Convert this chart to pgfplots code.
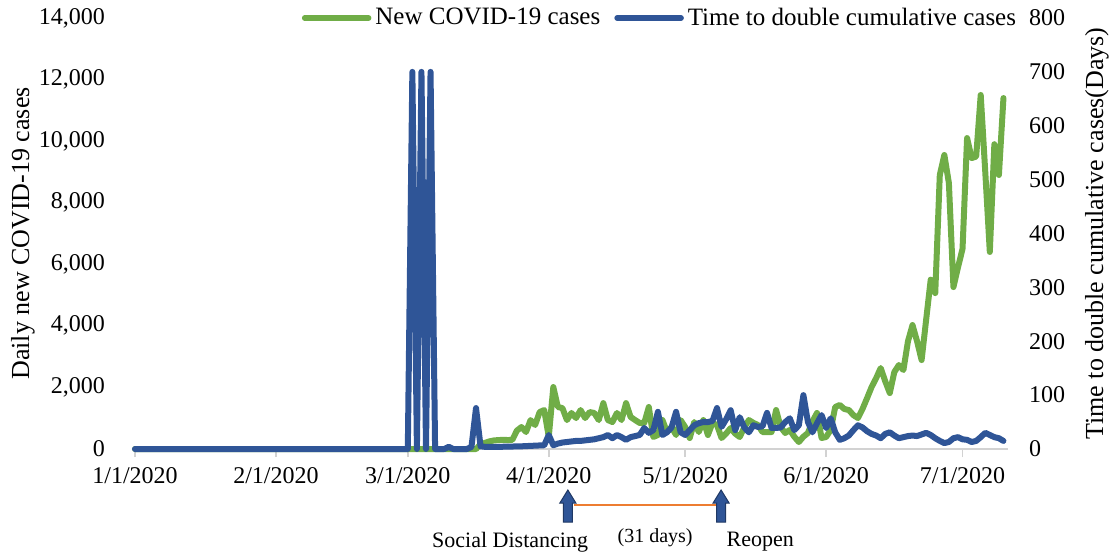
\documentclass[border=0pt]{standalone}
\usepackage{fontspec}
\setmainfont{Liberation Serif}
\usepackage{pgfplots}
\pgfplotsset{compat=1.18}
\usepackage{pgfplotstable}

\definecolor{casegreen}{RGB}{112,173,71}
\definecolor{doubleblue}{RGB}{47,85,151}
\definecolor{arrowedge}{RGB}{31,56,100}
\definecolor{spanorange}{RGB}{237,125,49}
\definecolor{axisgray}{RGB}{210,210,210}

% day = days since 1/1/2020
\pgfplotstableread{
day cases
0 0
75 0
76 150
77 200
78 250
79 280
80 290
81 300
82 290
83 300
84 600
85 714
86 552
87 940
88 780
89 1200
90 1266
91 400
92 2013
93 1364
94 1330
95 940
96 1170
97 1006
98 1266
99 1006
100 1200
101 1170
102 940
103 1490
104 940
105 877
106 1170
107 940
108 1490
109 1040
110 940
111 845
112 845
113 1364
114 390
115 455
116 940
117 552
118 714
119 455
120 940
121 714
122 357
123 877
124 552
125 940
126 455
127 845
128 780
129 357
130 500
131 680
132 500
133 390
134 700
135 940
136 850
137 780
138 552
139 552
140 552
141 1266
142 714
143 520
144 617
145 400
146 227
147 400
148 520
149 900
150 1170
151 357
152 390
153 620
154 1364
155 1430
156 1300
157 1266
158 1100
159 1006
160 1300
161 1650
162 2013
163 2300
164 2630
165 2200
166 1818
167 2500
168 2727
169 2565
170 3500
171 4026
172 3500
173 2890
174 4200
175 5500
176 5065
177 8900
178 9550
179 8640
180 5260
181 5900
182 6500
183 10100
184 9450
185 9500
186 11500
187 9000
188 6400
189 9900
190 8900
191 11400
}\newcases

\pgfplotstableread{
day dbl
0 0
60 0
61 700
62 0
63 700
64 0
65 700
66 0
68 0
69 4
70 0
73 0
74 4
75 76
76 5
77 4
80 4
85 5
90 7
91 26
92 7
93 10
94 12
95 13
96 14
97 15
98 15
99 16
100 17
101 18
102 20
103 22
104 26
105 20
106 26
107 22
108 17
109 22
110 24
111 26
112 39
113 30
114 35
115 69
116 26
117 31
118 40
119 69
120 31
121 26
122 35
123 44
124 48
125 50
126 50
127 52
128 76
129 41
130 55
131 72
132 35
133 59
134 40
135 31
136 44
137 41
138 42
139 67
140 39
141 39
142 40
143 50
144 57
145 35
146 44
147 100
148 50
149 31
150 48
151 63
152 39
153 57
154 31
155 17
156 20
157 25
158 35
159 44
160 40
161 33
162 28
163 25
164 20
165 28
166 31
167 25
168 20
169 22
170 24
171 25
172 24
173 27
174 30
175 26
176 20
177 15
178 11
179 13
180 20
181 22
182 18
183 17
184 13
185 15
186 22
187 30
188 26
189 22
190 20
191 15
}\doubling

\begin{document}
\begin{tikzpicture}
\pgfplotsset{
  every axis/.append style={
    scale only axis, width=436.5pt, height=215.5pt,
    xmin=0, xmax=192, clip=false,
    /pgf/number format/assume math mode=true,
    tick label style={font=\fontsize{12}{14}\selectfont},
    label style={font=\fontsize{13}{15}\selectfont},
  },
}
\begin{axis}[
  axis x line*=bottom,
  axis y line*=left,
  x axis line style={-, draw=axisgray, line width=0.9pt},
  y axis line style={draw=none},
  ymin=0, ymax=14000,
  ytick={0,2000,...,14000},
  scaled y ticks=false,
  /pgf/number format/fixed,
  /pgf/number format/1000 sep={,},
  /pgf/number format/min exponent for 1000 sep=0,
  yticklabel style={anchor=east, xshift=-7.5pt},
  xtick={0,31,60,91,121,152,182},
  xticklabels={1/1/2020,2/1/2020,3/1/2020,4/1/2020,5/1/2020,6/1/2020,7/1/2020},
  xticklabel style={yshift=-1.5pt},
  tick align=outside,
  major tick length=4pt,
  xtick style={draw=axisgray, line width=0.9pt},
  ytick style={draw=none},
  ylabel={Daily new COVID-19 cases},
  ylabel style={at={(axis description cs:-0.1283,0.5)}, anchor=center},
]
\addplot[casegreen, line width=3pt, line join=round, line cap=round, mark=none]
  table[x=day, y=cases]{\newcases};

% policy timeline under the date axis
\draw[fill=doubleblue, draw=arrowedge, line width=0.5pt]
  (axis cs:95.2,0) ++(0,-20.5pt) -- ++(4pt,-6.5pt) -- ++(-1.75pt,0) -- ++(0,-9.5pt)
  -- ++(-4.5pt,0) -- ++(0,9.5pt) -- ++(-1.75pt,0) -- cycle;
\draw[fill=doubleblue, draw=arrowedge, line width=0.5pt]
  (axis cs:128.9,0) ++(0,-20.5pt) -- ++(4pt,-6.5pt) -- ++(-1.75pt,0) -- ++(0,-9.5pt)
  -- ++(-4.5pt,0) -- ++(0,9.5pt) -- ++(-1.75pt,0) -- cycle;
\draw[spanorange, line width=0.6pt] (axis cs:96.5,0) ++(0,-28pt) -- ++(71pt,0);
\node[font=\fontsize{11}{13}\selectfont, yshift=-46.5pt] at (axis cs:82.5,0) {Social Distancing};
\node[font=\fontsize{10}{12}\selectfont, yshift=-44.5pt] at (axis cs:114.4,0) {(31 days)};
\node[font=\fontsize{11}{13}\selectfont, yshift=-46.5pt] at (axis cs:137.5,0) {Reopen};
\end{axis}

\begin{axis}[
  axis y line*=right,
  axis x line=none,
  y axis line style={draw=none},
  ymin=0, ymax=800,
  ytick={0,100,...,800},
  ytick style={draw=none},
  yticklabel style={anchor=west, xshift=7pt},
  ylabel={Time to double cumulative cases(Days)},
  ylabel style={at={(axis description cs:1.10195,0.5)}, anchor=center},
  legend style={at={(axis description cs:0.6025,1.0)}, anchor=center, draw=none, fill=none,
    font=\fontsize{12.5}{14}\selectfont, legend columns=2,
    /tikz/every even column/.append style={column sep=5pt}},
  legend image code/.code={\draw[#1, line width=2.75pt, line cap=round] (0pt,0pt) -- (32pt,0pt);},
]
\addlegendimage{casegreen}
\addlegendentry{New COVID-19 cases}
\addplot[doubleblue, line width=3pt, line join=round, line cap=round, mark=none]
  table[x=day, y=dbl]{\doubling};
\addlegendentry{Time to double cumulative cases}
\end{axis}

\pgfresetboundingbox
\path (-67.5pt,-54.5pt) rectangle (487.5pt,224.5pt);
\end{tikzpicture}
\end{document}
